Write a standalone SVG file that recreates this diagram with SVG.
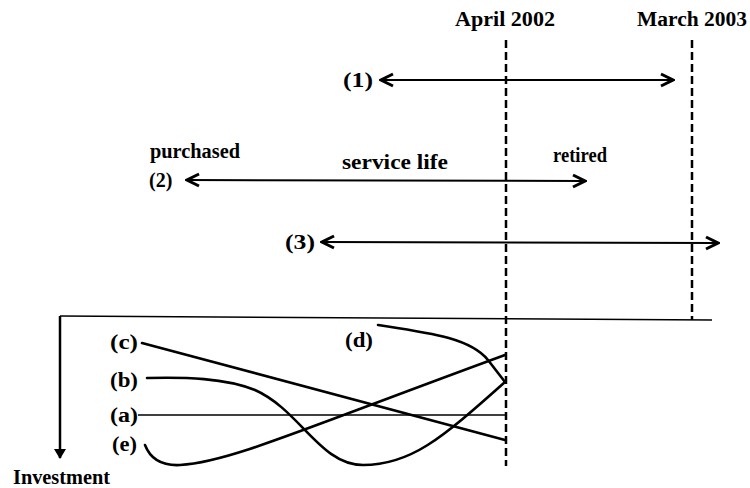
<svg xmlns="http://www.w3.org/2000/svg" width="750" height="488" viewBox="0 0 750 488">
<style>
text{font-family:"Liberation Serif","Times New Roman",serif;font-weight:bold;font-size:20px;fill:#000}
.dash{stroke:#000;stroke-width:2.5;stroke-dasharray:8 4;fill:none}
.arr{stroke:#000;stroke-width:2;fill:none;marker-start:url(#chev);marker-end:url(#chev)}
.curve{stroke:#000;stroke-width:2.6;fill:none;stroke-linecap:round}
.thin{stroke:#000;stroke-width:1.5;fill:none}
</style>
<defs>
<marker id="chev" markerUnits="userSpaceOnUse" viewBox="0 0 16 16" refX="14" refY="8" markerWidth="16" markerHeight="16" orient="auto-start-reverse">
<path d="M2,2 L14,8 L2,14" stroke="#000" stroke-width="3" fill="none" stroke-linejoin="miter"/>
</marker>
<marker id="tri" markerUnits="userSpaceOnUse" viewBox="0 0 10 12" refX="9" refY="6" markerWidth="10" markerHeight="12" orient="auto">
<path d="M0,0 L10,6 L0,12 Z" fill="#000"/>
</marker>
</defs>
<g id="dates">
<text x="455" y="26" textLength="100" lengthAdjust="spacingAndGlyphs">April 2002</text>
<text x="637" y="26" textLength="110" lengthAdjust="spacingAndGlyphs">March 2003</text>
</g>
<g id="guides">
<line class="dash" x1="506" y1="40" x2="506" y2="466"/>
<line class="dash" x1="692" y1="40" x2="692" y2="320"/>
</g>
<g id="axes">
<line class="thin" x1="60" y1="316" x2="712" y2="320"/>
<line x1="60" y1="316" x2="60" y2="458" stroke="#000" stroke-width="2.5" marker-end="url(#tri)"/>
<text x="13" y="484" textLength="97" lengthAdjust="spacingAndGlyphs">Investment</text>
</g>
<g id="connectors">
<line class="arr" x1="381" y1="80" x2="673" y2="80"/>
<line class="arr" x1="187" y1="180" x2="585" y2="181"/>
<line class="arr" x1="322" y1="242" x2="718" y2="243"/>
</g>
<g id="period1">
<text x="343" y="87" textLength="30" lengthAdjust="spacingAndGlyphs">(1)</text>
</g>
<g id="period2">
<text x="150" y="158" textLength="90" lengthAdjust="spacingAndGlyphs">purchased</text>
<text x="149" y="187">(2)</text>
<text x="342" y="169" textLength="106" lengthAdjust="spacingAndGlyphs">service life</text>
<text x="553" y="162" textLength="54" lengthAdjust="spacingAndGlyphs">retired</text>
</g>
<g id="period3">
<text x="285" y="249" textLength="30" lengthAdjust="spacingAndGlyphs">(3)</text>
</g>
<g id="curve-a">
<text x="110" y="422" textLength="28" lengthAdjust="spacingAndGlyphs">(a)</text>
<line class="thin" x1="138" y1="415" x2="506" y2="415"/>
</g>
<g id="curve-b">
<text x="110" y="387" textLength="28" lengthAdjust="spacingAndGlyphs">(b)</text>
<path class="curve" d="M147,378 C185,377 225,378 255,390 C300,410 320,465 363,465 C410,465 440,440 505,382"/>
</g>
<g id="curve-c">
<text x="110" y="349" textLength="28" lengthAdjust="spacingAndGlyphs">(c)</text>
<path class="curve" d="M142,343 L505,440"/>
</g>
<g id="curve-d">
<text x="345" y="347" textLength="28" lengthAdjust="spacingAndGlyphs">(d)</text>
<path class="curve" d="M378,325 C430,333 470,338 488,360 L505,382"/>
</g>
<g id="curve-e">
<text x="112" y="451" textLength="25" lengthAdjust="spacingAndGlyphs">(e)</text>
<path class="curve" d="M145,445 C150,458 160,466 180,465 C230,462 300,430 505,355"/>
</g>
</svg>
